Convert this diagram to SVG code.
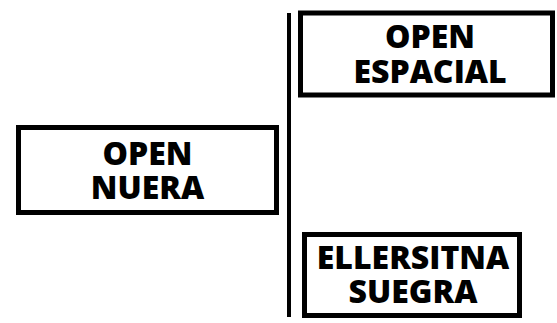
<svg xmlns="http://www.w3.org/2000/svg" width="557" height="323" viewBox="0 0 557 323">
<style>
.box{fill:#fff;stroke:#000;stroke-width:5}
.lbl{font-family:"Open Sans","Liberation Sans",sans-serif;font-weight:800;font-size:32px;fill:#000;text-anchor:middle}
.conn{stroke:#000;stroke-width:4;fill:none}
</style>
<rect width="557" height="323" fill="#fff"/>
<g id="connectors">
<line class="conn" x1="289" y1="13" x2="289" y2="317"/>
</g>
<g id="node-nuera">
<rect class="box" x="18.5" y="127.5" width="258" height="85"/>
<text class="lbl" x="147.5" y="165">OPEN</text>
<text class="lbl" x="147.5" y="199">NUERA</text>
</g>
<g id="node-espacial">
<rect class="box" x="300.5" y="13" width="252" height="82"/>
<text class="lbl" x="430" y="48">OPEN</text>
<text class="lbl" x="430" y="83">ESPACIAL</text>
</g>
<g id="node-suegra">
<rect class="box" x="304.5" y="234.5" width="215" height="81"/>
<text class="lbl" x="413" y="269">ELLERSITNA</text>
<text class="lbl" x="413" y="303">SUEGRA</text>
</g>
</svg>
